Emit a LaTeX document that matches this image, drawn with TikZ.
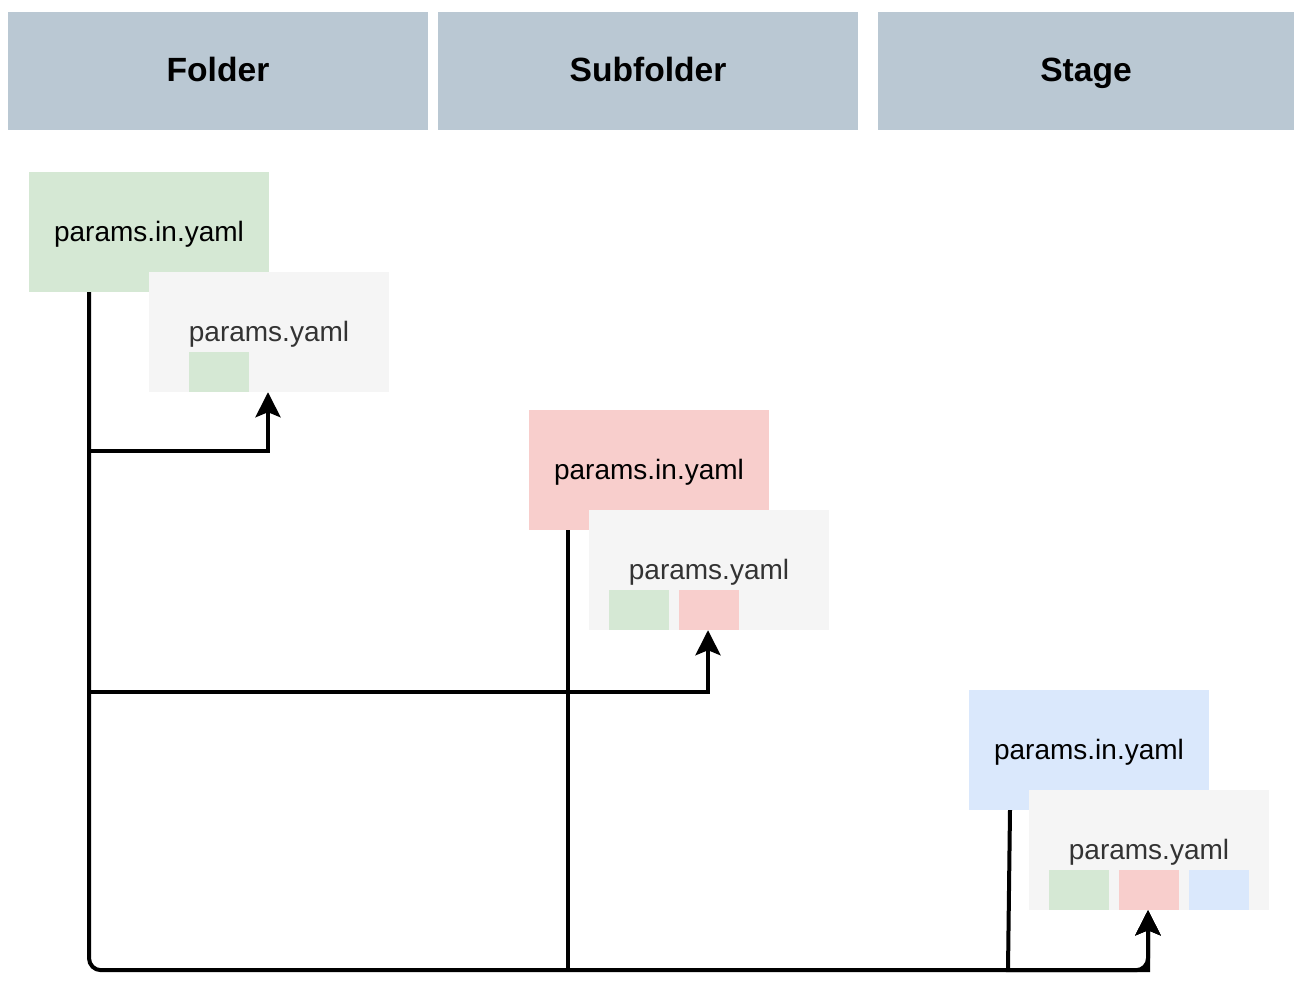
\documentclass[tikz,border=0pt]{standalone}
\usepackage{fontspec}
\setmainfont{Liberation Sans}
\usetikzlibrary{arrows.meta}
\definecolor{hdr}{HTML}{BAC8D3}
\definecolor{ggreen}{HTML}{D5E8D4}
\definecolor{gred}{HTML}{F8CECC}
\definecolor{gblue}{HTML}{DAE8FC}
\definecolor{ggray}{HTML}{F5F5F5}
\definecolor{gtext}{HTML}{333333}
\begin{document}
\begin{tikzpicture}[x=1pt,y=-1pt,
  hdrbox/.style={fill=hdr, draw=none, minimum width=420pt, minimum height=118pt, inner sep=0pt,
    text height=24pt, text depth=4pt,
    font=\fontsize{33.6}{40}\selectfont\bfseries},
  inbox/.style={draw=none, minimum width=240pt, minimum height=120pt, inner sep=0pt,
    text height=20pt, text depth=2pt,
    font=\fontsize{28}{34}\selectfont},
  outbox/.style={fill=ggray, draw=none, minimum width=240pt, minimum height=120pt, inner sep=0pt,
    text height=20pt, text depth=2pt,
    font=\fontsize{28}{34}\selectfont, text=gtext},
  chip/.style={draw=none, minimum width=60pt, minimum height=40pt, inner sep=0pt},
  conn/.style={line width=4pt, -{Stealth[length=25pt,width=25pt,inset=5pt]}},
]
\useasboundingbox (0,0) rectangle (1294,991);
% headers
\node[hdrbox] (hfolder) at (218,71) {Folder};
\node[hdrbox] (hsub) at (648,71) {Subfolder};
\node[hdrbox, minimum width=416pt] (hstage) at (1086,71) {Stage};
% folder
\node[inbox, fill=ggreen] (gin) at (149,232) {params.in.yaml};
\node[outbox] (gy) at (269,332) {params.yaml};
\node[chip, fill=ggreen] (gy1) at (219,372) {};
% subfolder
\node[inbox, fill=gred] (rin) at (649,470) {params.in.yaml};
\node[outbox] (ry) at (709,570) {params.yaml};
\node[chip, fill=ggreen] (ry1) at (639,610) {};
\node[chip, fill=gred] (ry2) at (709,610) {};
% stage
\node[inbox, fill=gblue] (bin) at (1089,750) {params.in.yaml};
\node[outbox] (by) at (1149,850) {params.yaml};
\node[chip, fill=ggreen] (by1) at (1079,890) {};
\node[chip, fill=gred] (by2) at (1149,890) {};
\node[chip, fill=gblue] (by3) at (1219,890) {};
% connectors
\draw[conn] ([xshift=-60pt]gin.south) -- ++(0,159) -| ([xshift=-1pt]gy.south);
\draw[conn] ([xshift=-60pt]gin.south) -- ++(0,400) -| ([xshift=-1pt]ry.south);
\draw[conn, rounded corners=12pt] ([xshift=-60pt]gin.south) -- ++(0,678) -| ([xshift=-1pt]by.south);
\draw[conn] ([xshift=-81pt]rin.south) -- ++(0,440) -| ([xshift=-1pt]by.south);
\draw[conn] ([xshift=-79pt]bin.south) -- ++(-2,160) -| ([xshift=-1pt]by.south);
\end{tikzpicture}
\end{document}
